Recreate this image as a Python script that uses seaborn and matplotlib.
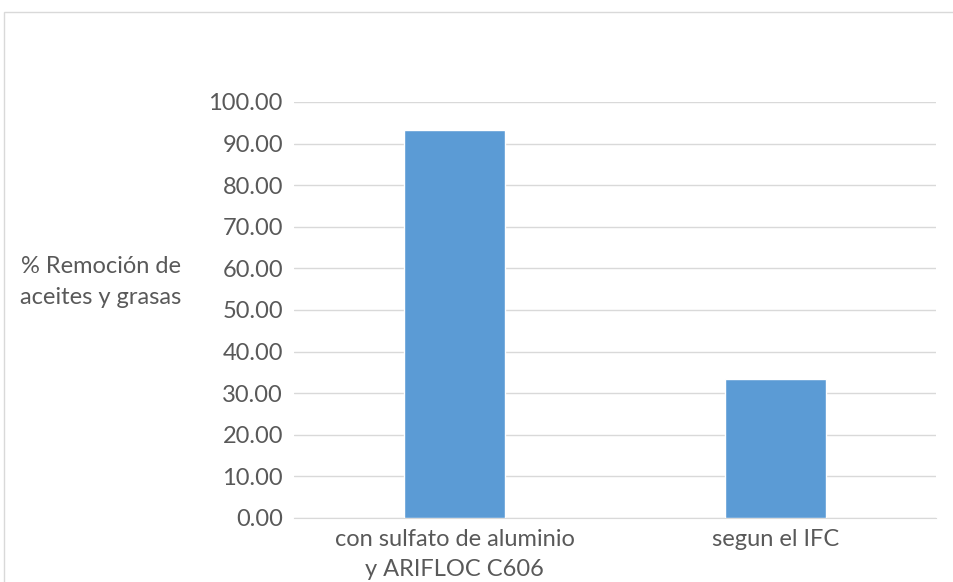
import matplotlib
matplotlib.use("Agg")
import matplotlib.pyplot as plt
import seaborn as sns
import pandas as pd
from matplotlib.patches import Rectangle

# Data
categories = ["con sulfato de aluminio\ny ARIFLOC C606", "segun el IFC"]
removal = [93.33, 33.33]
y_ticks = [0, 10, 20, 30, 40, 50, 60, 70, 80, 90, 100]

df = pd.DataFrame({"Tratamiento": categories, "Remocion": removal})

sns.set_style("white")
plt.rcParams["font.family"] = ["Lato", "DejaVu Sans"]

fig = plt.figure(figsize=(9.54, 5.82), dpi=100)
ax = fig.add_axes([294 / 954, 1 - 518 / 582, (936 - 294) / 954, (518 - 102) / 582])

sns.barplot(data=df, x="Tratamiento", y="Remocion", color="#5b9bd5",
            width=0.315, ax=ax, saturation=1, zorder=3)

ax.set_ylim(0, 100)
ax.set_yticks(y_ticks)
ax.set_yticklabels([f"{v:.2f}" for v in y_ticks])
ax.yaxis.grid(True, color="#d9d9d9", linewidth=1, zorder=0)
ax.set_axisbelow(True)
for side in ["top", "right", "left"]:
    ax.spines[side].set_visible(False)
ax.spines["bottom"].set_color("#d9d9d9")
ax.tick_params(axis="both", length=0, labelsize=17, colors="#595959")
ax.tick_params(axis="x", pad=8)
ax.tick_params(axis="y", pad=8)
for lbl in ax.get_xticklabels():
    lbl.set_linespacing(1.5)
ax.set_xlabel("")
ax.set_ylabel("")

fig.text(101 / 954, 1 - 282 / 582, "% Remoción de\naceites y grasas", ha="center",
         va="center", fontsize=17, color="#595959", linespacing=1.55)

# Outer chart frame
fig.patches.append(Rectangle((4 / 954, -0.1), 1.2, 1 - 12 / 582 + 0.1,
                             transform=fig.transFigure, fill=False,
                             edgecolor="#d9d9d9", linewidth=1))

fig.savefig("out.png", dpi=100)
